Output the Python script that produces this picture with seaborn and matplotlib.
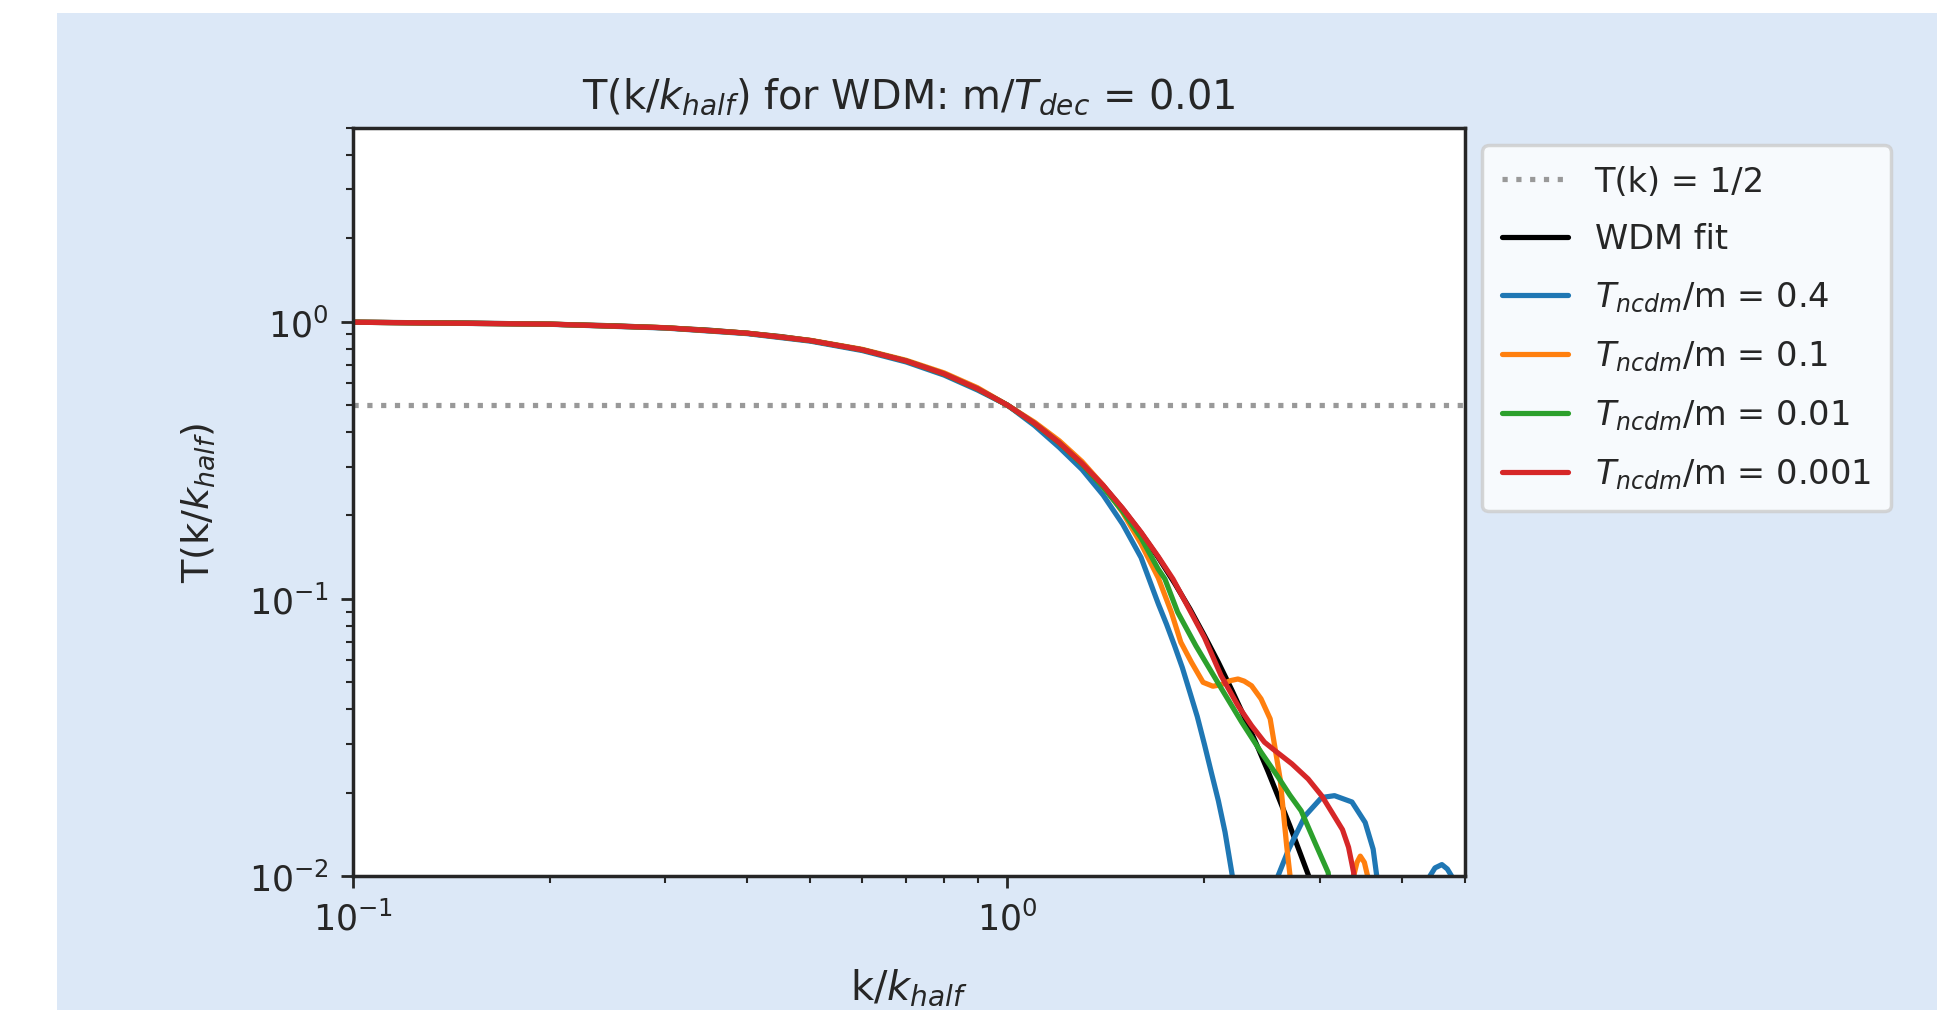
import matplotlib.pyplot as plt
import seaborn as sns
from matplotlib.patches import Rectangle

# values (k in units of k_half)
k_fit = [0.1, 0.15, 0.2, 0.25, 0.3, 0.35, 0.4, 0.45, 0.5, 0.6, 0.7, 0.8, 0.9, 1.0, 1.1, 1.2,
         1.3, 1.4, 1.5, 1.6, 1.7, 1.8, 1.9, 2.0, 2.1, 2.2, 2.3, 2.4, 2.5, 2.6, 2.7, 2.8, 2.9, 3.0]
T_fit = [0.996, 0.989, 0.980, 0.967, 0.951, 0.932, 0.909, 0.884, 0.855, 0.792, 0.722, 0.649,
         0.573, 0.500, 0.430, 0.366, 0.308, 0.256, 0.211, 0.173, 0.141, 0.114, 0.092, 0.0736,
         0.059, 0.0471, 0.0376, 0.0300, 0.0239, 0.0190, 0.0152, 0.0121, 0.0097, 0.0078]

k_04 = [0.1, 0.2, 0.3, 0.4, 0.5, 0.6, 0.7, 0.8, 0.9, 1.0, 1.1, 1.2, 1.3, 1.4, 1.5, 1.6, 1.65,
        1.7, 1.75, 1.8, 1.85, 1.9, 1.95, 2.0, 2.05, 2.1, 2.15, 2.2, 2.25, 2.54, 2.59, 2.69,
        2.85, 3.02, 3.16, 3.36, 3.52, 3.62, 3.66, 3.72, 4.36, 4.42, 4.5, 4.61, 4.7, 4.77, 4.85]
T_04 = [0.996, 0.979, 0.949, 0.906, 0.851, 0.787, 0.716, 0.642, 0.567, 0.500, 0.422, 0.352,
        0.293, 0.237, 0.186, 0.141, 0.116, 0.096, 0.081, 0.0678, 0.0565, 0.046, 0.0376,
        0.0298, 0.0235, 0.0187, 0.0144, 0.0104, 0.0075, 0.0080, 0.0100, 0.0125, 0.0165,
        0.0192, 0.0195, 0.0185, 0.0156, 0.0125, 0.0103, 0.0078, 0.0078, 0.0100, 0.0107,
        0.0110, 0.0106, 0.0100, 0.0078]

k_01 = [0.1, 0.2, 0.3, 0.4, 0.5, 0.6, 0.7, 0.8, 0.9, 1.0, 1.1, 1.2, 1.3, 1.4, 1.5, 1.6, 1.7,
        1.78, 1.84, 1.91, 1.99, 2.06, 2.12, 2.19, 2.25, 2.3, 2.36, 2.44, 2.52, 2.56, 2.61,
        2.64, 2.67, 2.70, 2.73, 3.33, 3.38, 3.42, 3.46, 3.51, 3.55, 3.58]
T_01 = [0.996, 0.980, 0.952, 0.910, 0.857, 0.795, 0.726, 0.654, 0.578, 0.500, 0.434, 0.372,
        0.313, 0.257, 0.205, 0.158, 0.119, 0.0895, 0.0698, 0.0591, 0.0500, 0.0484, 0.0490,
        0.0507, 0.0514, 0.0505, 0.0486, 0.0436, 0.0369, 0.0295, 0.0224, 0.0170, 0.0129,
        0.0102, 0.0080, 0.0080, 0.0100, 0.0112, 0.0118, 0.0112, 0.0100, 0.0080]

k_001 = [0.1, 0.2, 0.3, 0.4, 0.5, 0.6, 0.7, 0.8, 0.9, 1.0, 1.1, 1.2, 1.3, 1.4, 1.5, 1.6, 1.7,
         1.74, 1.82, 1.94, 2.11, 2.28, 2.44, 2.59, 2.70, 2.81, 2.95, 3.09, 3.13]
T_001 = [0.996, 0.980, 0.951, 0.909, 0.855, 0.792, 0.722, 0.648, 0.572, 0.500, 0.429, 0.365,
         0.306, 0.253, 0.207, 0.166, 0.128, 0.118, 0.0895, 0.0678, 0.0486, 0.0359, 0.0280,
         0.0228, 0.0196, 0.0172, 0.0132, 0.0103, 0.0080]

k_0001 = [0.1, 0.2, 0.3, 0.4, 0.5, 0.6, 0.7, 0.8, 0.9, 1.0, 1.1, 1.2, 1.3, 1.4, 1.5, 1.6, 1.7,
          1.79, 1.89, 2.0, 2.12, 2.25, 2.36, 2.47, 2.56, 2.72, 2.88, 3.02, 3.13, 3.25, 3.32,
          3.38, 3.41]
T_0001 = [0.996, 0.980, 0.951, 0.909, 0.855, 0.792, 0.722, 0.649, 0.573, 0.500, 0.430, 0.366,
          0.308, 0.257, 0.212, 0.174, 0.142, 0.118, 0.093, 0.0725, 0.0529, 0.0412, 0.0349,
          0.0304, 0.0284, 0.0254, 0.0224, 0.0195, 0.0170, 0.0147, 0.0127, 0.0103, 0.0080]

ncdm = [
    ("$T_{ncdm}$/m = 0.4", k_04, T_04, "tab:blue"),
    ("$T_{ncdm}$/m = 0.1", k_01, T_01, "tab:orange"),
    ("$T_{ncdm}$/m = 0.01", k_001, T_001, "tab:green"),
    ("$T_{ncdm}$/m = 0.001", k_0001, T_0001, "tab:red"),
]

sns.set_style("ticks")
plt.rcParams["font.family"] = ["DejaVu Sans"]
plt.rcParams["axes.linewidth"] = 1.0

fig = plt.figure(figsize=(7.748, 4.044), dpi=250, facecolor="white")
fig.add_artist(Rectangle((57 / 1937, 0), 1, 1 - 14 / 1011, transform=fig.transFigure,
                         facecolor="#dce8f7", edgecolor="none", zorder=-5))
ax = fig.add_axes([0.1822, 0.1325, 0.5741, 0.7399])

ax.axhline(0.5, ls=":", color="#999999", lw=1.5, label="T(k) = 1/2")
sns.lineplot(x=k_fit, y=T_fit, color="black", label="WDM fit", ax=ax)
for label, k, T, c in ncdm:
    sns.lineplot(x=k, y=T, color=c, label=label, ax=ax)

ax.set_xscale("log")
ax.set_yscale("log")
ax.set_xlim(0.1, 5)
ax.set_ylim(0.01, 5)
ax.set_title("T(k/$k_{half}$) for WDM: m/$T_{dec}$ = 0.01", fontsize=11.5)
ax.set_xlabel("k/$k_{half}$", fontsize=11.5, labelpad=8.5)
ax.set_ylabel("T(k/$k_{half}$)", fontsize=11, labelpad=9)
ax.legend(loc="upper left", bbox_to_anchor=(1, 1), fontsize=9.7,
          labelspacing=0.72, handlelength=1.95, borderpad=0.6)

fig.savefig("out.png", dpi=250)
